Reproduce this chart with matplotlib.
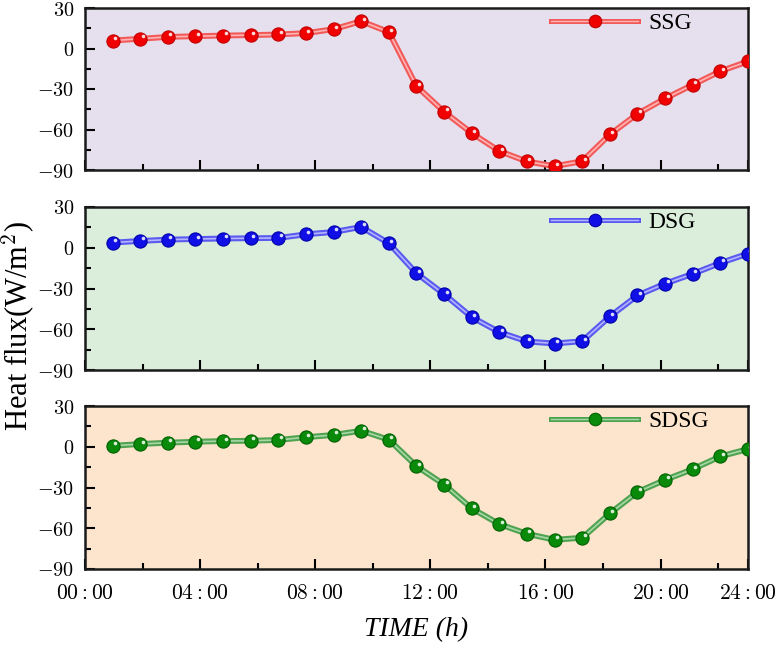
import numpy as np
import matplotlib
matplotlib.use("Agg")
import matplotlib.pyplot as plt
from matplotlib.lines import Line2D
from matplotlib.legend_handler import HandlerTuple
from matplotlib import transforms

plt.rcParams['mathtext.fontset'] = 'cm'

hours = list(range(1, 25))

ssg = [5.9, 7.2, 8.6, 9.1, 9.6, 9.9, 10.4, 11.4, 14.3, 20.2, 12.2,
       -27.9, -46.9, -62.7, -76.0, -83.7, -87.2, -83.5, -63.7, -48.4,
       -37.0, -26.9, -16.8, -9.6]
dsg = [3.8, 5.0, 6.0, 6.4, 6.8, 7.0, 7.2, 9.9, 11.6, 15.3, 3.3,
       -18.8, -34.2, -51.1, -62.1, -69.0, -70.5, -68.8, -50.6, -35.1,
       -26.4, -19.2, -11.2, -4.3]
sdsg = [0.7, 2.0, 3.0, 3.7, 4.2, 4.4, 5.0, 7.0, 8.7, 11.8, 5.2,
        -14.3, -27.8, -45.4, -57.0, -64.1, -68.5, -67.0, -49.1, -33.3,
        -24.4, -16.5, -7.1, -1.7]

names = ["SSG", "DSG", "SDSG"]
series = [ssg, dsg, sdsg]
xtick_labels = ["00:00", "04:00", "08:00", "12:00", "16:00", "20:00", "24:00"]
yticks = [-90, -60, -30, 0, 30]

bg_colors = ["#e6e0ee", "#daeedb", "#fce4cd"]
line_colors = ["#f25a5a", "#5a5af0", "#4fa24f"]
inner_colors = ["#ffb4b4", "#b4b4ff", "#a8d8a8"]
marker_colors = ["#f00000", "#1010e6", "#0a8a0a"]
edge_colors = ["#c00000", "#0000a8", "#006000"]

fig = plt.figure(figsize=(7.8, 6.48), dpi=100)
W, H = 780, 648
left, right = 85, 748
panels = [(8, 170), (207, 370), (406, 569)]

step = 25 / 6
major = [i * step for i in range(6)] + [24]
minor = [i * step + step / 2 for i in range(6)]

for k, (top, bot) in enumerate(panels):
    ax = fig.add_axes([left / W, 1 - bot / H, (right - left) / W, (bot - top) / H])
    ax.set_facecolor(bg_colors[k])
    y = series[k]
    ax.plot(hours, y, color=line_colors[k], lw=4.2, solid_capstyle='round', zorder=2)
    ax.plot(hours, y, color=inner_colors[k], lw=1.2, zorder=3)
    ax.plot(hours, y, ls='none', marker='o', ms=9.5, mfc=marker_colors[k],
            mec=edge_colors[k], mew=0.8, zorder=4)
    hl = transforms.offset_copy(ax.transData, fig=fig, x=1.8, y=1.8, units='points')
    ax.plot(hours, y, ls='none', marker='o', ms=2.6, mfc='white', mec='none',
            alpha=0.85, transform=hl, zorder=5)

    ax.set_xlim(0, 24)
    ax.set_ylim(-90, 30)
    ax.set_yticks(yticks)
    ax.set_yticklabels(['$%d$' % v for v in yticks])
    ax.set_yticks([-75, -45, -15, 15], minor=True)
    ax.set_xticks(major)
    ax.set_xticks(minor, minor=True)
    if k == 2:
        ax.set_xticklabels(['$%s$' % s for s in xtick_labels])
    else:
        ax.set_xticklabels([])
    ax.tick_params(axis='y', which='major', direction='in', length=7, width=1.5,
                   labelsize=14.5, pad=8)
    ax.tick_params(axis='x', which='major', direction='in', length=7, width=1.5,
                   labelsize=15.5, pad=10)
    ax.tick_params(which='minor', direction='in', length=4, width=1.5)
    for s in ax.spines.values():
        s.set_linewidth(1.8)
        s.set_color('#1a1a1a')

    h_outer = Line2D([], [], color=line_colors[k], lw=3.6)
    h_inner = Line2D([], [], color=inner_colors[k], lw=1.0)
    h_mark = Line2D([], [], ls='none', marker='o', ms=9, mfc=marker_colors[k],
                    mec=edge_colors[k], mew=0.8)
    leg = ax.legend([(h_outer, h_inner, h_mark)], [names[k]],
                    handler_map={tuple: HandlerTuple(ndivide=1, pad=0)},
                    loc='center left', bbox_to_anchor=(0.703, 0.905),
                    frameon=False, handlelength=3.7, handletextpad=0.4,
                    borderpad=0, borderaxespad=0,
                    prop={'family': 'Liberation Serif', 'size': 17})

fig.text(18 / W, 1 - 326 / H, r'Heat flux(W/m$^2$)', rotation=90,
         ha='center', va='center', family='Liberation Serif', fontsize=22)
fig.text(416 / W, 1 - 630 / H, 'TIME (h)', ha='center', va='center',
         family='Liberation Serif', style='italic', fontsize=20)

fig.savefig('out.png', dpi=100)
